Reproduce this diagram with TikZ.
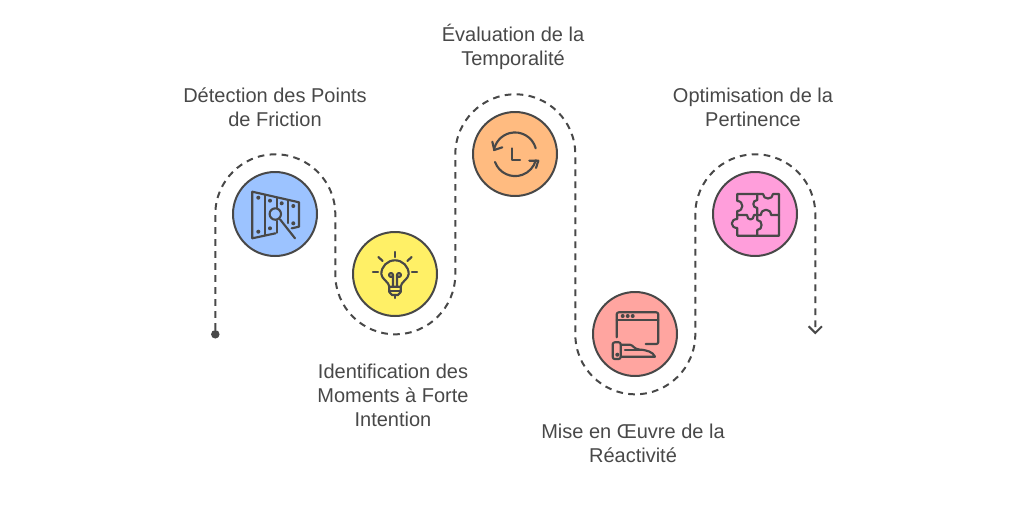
\documentclass[tikz,border=0pt]{standalone}
\usepackage{xcolor}
\usepackage{fontspec}
\setmainfont{Liberation Sans}
\usetikzlibrary{arrows.meta, positioning}
\definecolor{inkgrey}{HTML}{484848}
\definecolor{stepblue}{HTML}{9CC3FF}
\definecolor{stepyellow}{HTML}{FFF066}
\definecolor{steporange}{HTML}{FFBB80}
\definecolor{stepred}{HTML}{FFA5A0}
\definecolor{steppink}{HTML}{FF9EDB}
\tikzset{
    stepdisc/.style={draw=inkgrey, circle, line width=1.5pt, minimum size=63pt, inner sep=0pt},
    caption/.style={text=inkgrey, align=center, font=\fontsize{15}{18}\selectfont},
    trail/.style={draw=inkgrey, line width=1.5pt, dash pattern=on 5pt off 4pt},
    icon/.style={draw=inkgrey, line width=1.6pt, line cap=round, line join=round},
    stud/.style={circle, fill=inkgrey, inner sep=0pt, minimum size=3pt}
}

\begin{document}
\begin{tikzpicture}[x=0.75pt, y=-0.75pt]
    \useasboundingbox (0,0) rectangle (1015,515);

    % Winding path
    \node[circle, fill=inkgrey, inner sep=0pt, minimum size=6.4pt] (start) at (215.3,334.3) {};
    \coordinate (tip) at (815.3,334.3);
    \draw[trail, -{Straight Barb[length=5pt, width=10pt, line width=1.5pt]}] (start) -- (215.3,214.3)
        arc[start angle=180, end angle=360, radius=60] -- (335.3,274.3)
        arc[start angle=180, end angle=0, radius=60] -- (455.3,154.3)
        arc[start angle=180, end angle=360, radius=60] -- (575.3,334.3)
        arc[start angle=180, end angle=0, radius=60] -- (695.3,214.3)
        arc[start angle=180, end angle=360, radius=60] -- (tip);

    % Friction
    \node[stepdisc, fill=stepblue] (friction) at (275,214) {};
    \node[caption] (frictiontext) at (275,107) {Détection des Points\\de Friction};
    \begin{scope}[shift={(friction)}]
        \draw[icon] (0.5,19.3) -- (-22.7,24.3) -- (-22.7,-22.3) -- (24,-11.7) -- (24,12.7) -- (16.7,14.3);
        \draw[icon] (-10,-19) -- (-10,21);
        \draw[icon] (1.7,-16) -- (1.7,-6);
        \draw[icon] (1.7,7) -- (1.7,18.7);
        \draw[icon] (13.3,-13) -- (13.3,9);
        \draw[icon] (0.3,0) circle[radius=5.7];
        \draw[icon] (5,5.3) -- (20,24.3);
        \foreach \sx/\sy in {-16.7/-16.3, -5/-13.3, 6.7/-10.7, 18.3/-8, 18.3/9.3, -5/14.3, -16.7/17.7}
            \node[stud] at (\sx,\sy) {};
    \end{scope}

    % Intention
    \node[stepdisc, fill=stepyellow] (intention) at (395,274) {};
    \node[caption] (intentiontext) at (393,395) {Identification des\\Moments à Forte\\Intention};
    \begin{scope}[shift={(intention)}]
        \draw[icon] (-5.7,12.7) .. controls (-5.7,8) and (-13.7,5) .. (-13.7,0)
            arc[start angle=180, end angle=360, radius=13.7]
            .. controls (13.7,5) and (5.7,8) .. (5.7,12.7) -- cycle;
        \draw[icon] (-5.7,12.7) -- (-5.7,18) -- (-3,21) -- (3,21) -- (5.7,18) -- (5.7,12.7);
        \draw[icon] (-5.7,17) -- (5.7,17);
        \draw[icon] (0,21) -- (0,24);
        \draw[icon] (-2,12.7) -- (-2,1) arc[start angle=0, end angle=-360, radius=2];
        \draw[icon] (2,12.7) -- (2,1) arc[start angle=180, end angle=540, radius=2];
        \draw[icon] (0,-22) -- (0,-17);
        \draw[icon] (-22,-2) -- (-17,-2);
        \draw[icon] (17,-2) -- (22,-2);
        \draw[icon] (-16.7,-17) -- (-12.3,-13);
        \draw[icon] (16.7,-17) -- (12.3,-13);
    \end{scope}

    % Temporality
    \node[stepdisc, fill=steporange] (temporal) at (515,154) {};
    \node[caption] (temporaltext) at (513,47) {Évaluation de la\\Temporalité};
    \begin{scope}[shift={(temporal)}]
        \draw[icon] (20.7,-5.7) arc[start angle=-15, end angle=-170, radius=21.4];
        \draw[icon] (-22.7,-12.3) -- (-20.7,-4) -- (-12.7,-6.7);
        \draw[icon] (-20,8) arc[start angle=160, end angle=15, radius=21.4];
        \draw[icon] (14.3,6.7) -- (23.3,6.7) -- (21,14);
        \draw[icon] (-2.7,-5.7) -- (-2.7,6) -- (5,6);
    \end{scope}

    % Reactivity
    \node[stepdisc, fill=stepred] (reactive) at (635,334) {};
    \node[caption] (reactivetext) at (633,443) {Mise en Œuvre de la\\Réactivité};
    \begin{scope}[shift={(reactive)}]
        \draw[icon, rounded corners=1.5pt] (-18.3,3.3) -- (-18.3,-21.7) -- (23.3,-21.7) -- (23.3,10) -- (10.7,10);
        \draw[icon] (-18.3,-14) -- (23.3,-14);
        \foreach \sx in {-12.3,-7.3,-2.3}
            \node[stud] at (\sx,-18) {};
        \draw[icon, rounded corners=1.5pt] (-22.3,8.3) rectangle (-14.3,25);
        \node[stud] at (-17.7,20.7) {};
        \draw[icon] (-14.3,10.7) -- (-5,10.7) .. controls (-2,11) and (-1,15) .. (4,15.5)
            .. controls (12,16) and (18,18) .. (20,22.7) -- (-14.3,22.7);
        \draw[icon] (-10,16) -- (8.3,16);
    \end{scope}

    % Relevance
    \node[stepdisc, fill=steppink] (relevance) at (755,214) {};
    \node[caption] (relevancetext) at (753,107) {Optimisation de la\\Pertinence};
    \begin{scope}[shift={(relevance)}]
        \draw[icon] (-17.7,1) -- (-17.7,-3) .. controls (-11,-3) and (-11,-13) .. (-17.7,-13)
            -- (-17.7,-20) -- (8,-20) .. controls (8,-14) and (18,-14) .. (18,-20)
            -- (24,-20) -- (24,21.7) -- (-17.7,21.7) -- (-17.7,14)
            .. controls (-25,14) and (-25,5) .. (-17.7,5) -- cycle;
        \draw[icon] (-17.7,1) -- (-8,1) .. controls (-8,7) and (-1,7) .. (-1,1) -- (6,1)
            .. controls (6,-6) and (16,-6) .. (16,1) -- (24,1);
        \draw[icon] (2.3,-20) -- (2.3,-14) .. controls (-3,-14) and (-3,-6) .. (2.3,-6) -- (2.3,6)
            .. controls (8,6) and (8,16) .. (2.3,16) -- (2.3,21.7);
    \end{scope}
\end{tikzpicture}
\end{document}
